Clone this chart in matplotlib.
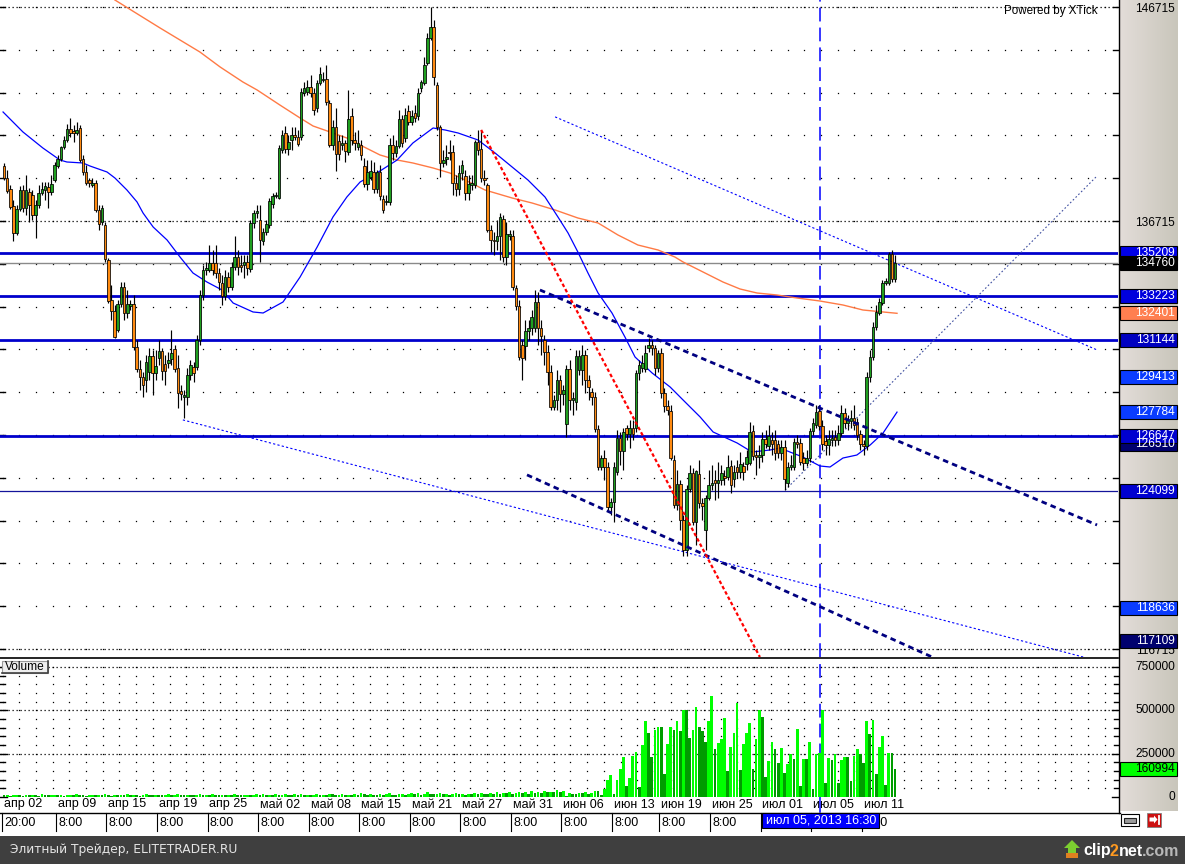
import numpy as np
import matplotlib
matplotlib.use("Agg")
import matplotlib.pyplot as plt
from matplotlib.patches import Rectangle, Polygon
from matplotlib.lines import Line2D
from matplotlib.colors import LinearSegmentedColormap
import matplotlib.transforms as mtransforms

plt.rcParams['font.family'] = ['Liberation Sans', 'DejaVu Sans']

# ------------------------------------------------------------------ data
opens = [139290,138720,138210,137420,136150,137280,138160,137320,138070,137930,
137000,137460,138020,138160,138300,138070,138630,139290,139610,140170,
140500,141010,140920,140830,141060,139610,139000,138630,138400,138490,
137230,136670,136530,134890,133020,132510,131620,132840,133630,132420,
132740,132840,130830,129800,129430,129280,129660,130410,129610,130310,
130640,130030,130080,130270,130730,129850,128770,128490,128490,129520,
129890,129890,131150,133260,134430,134430,134750,134750,134290,133820,
133210,134100,133630,134570,135030,134660,134660,134800,134470,136620,
137090,136760,135780,136200,136530,137510,137880,137790,140030,140830,
140080,140500,140730,140640,140640,142700,142740,142980,142700,142000,
143160,143300,143350,142230,140270,141110,140450,140270,140360,139940,
141620,140500,140170,140270,139290,138440,138770,139000,138210,139000,
137740,137600,137600,140270,139890,140220,141480,140590,141860,141340,
141760,141620,142930,143160,144100,145270,145780,143070,141110,139430,
139610,139940,139940,138490,138210,138960,138820,138020,138400,138400,
140410,140080,138720,138400,136290,135830,135780,136010,136810,135030,
136010,136010,133580,132740,130920,130870,131570,131710,131710,132930,
131710,131150,130590,129660,128020,128350,129280,128630,127230,129800,
128350,128260,129750,129750,130450,129280,128720,128490,126990,125220,
125640,125220,123350,123580,124990,126570,125970,127040,126760,127040,
127040,129610,129850,129800,130780,130920,130780,129850,130550,128680,
128070,127840,125550,123440,124420,122740,121340,124190,124940,122650,
124890,123540,122280,123770,124380,124610,124470,124610,124800,124750,
125270,124660,125220,124990,125270,125360,125410,126900,125780,125690,
125780,126530,126200,126480,126480,126290,125870,126150,124470,125220,
125220,126390,126340,125640,125410,125640,126900,127180,127840,127140,
126430,126250,126480,126620,126480,126810,127740,127280,127370,127510,
127320,126760,126290,126200,129430,130360,131760,132420,132880,133820,
133820,135170,134000]

highs = [139430,139100,138400,137700,137460,138350,138400,138860,138260,138160,
137700,138400,138540,138540,138540,138860,139470,139800,140220,140690,
141250,141530,141200,141340,141200,139800,139330,138720,138720,138630,
137460,137460,136670,134990,133720,132790,133020,133860,133860,133490,
133020,133260,131150,130220,129660,130450,130780,130690,130690,131150,
130780,130450,130590,131620,130920,130450,129050,128820,129850,130220,
130130,131390,133490,134660,134800,135590,135360,135590,134520,134190,
134430,134330,134800,136010,135360,135130,135130,135130,136760,137230,
137460,137460,136390,136760,137790,138020,138070,140270,140970,141150,
140730,141110,141110,140970,142930,143210,143300,143540,142930,143300,
143910,143680,144000,142370,141440,142000,140730,140730,140500,142840,
142000,140870,140970,140500,139660,139570,139570,139470,139100,139330,
137930,137930,140590,140730,140500,141900,141670,142000,142140,141900,
142140,142930,143300,144380,145500,146720,146110,143210,141200,140030,
140270,140500,140270,138860,139330,139570,139100,138860,138860,140500,
140970,140970,139100,138490,136530,136200,136760,137090,137000,136670,
136290,136290,133720,133020,131150,132090,132090,132560,133490,133400,
132090,131390,130920,129990,128580,129750,129520,129050,129990,130220,
128720,130690,130690,130920,130690,129520,128910,128720,127180,125780,
126010,125450,123770,125450,126950,126850,127040,127180,127420,127420,
129750,130220,130450,130920,131250,131150,130920,130690,130780,128910,
128350,128120,125780,125080,124610,122980,124380,125310,125170,125080,
125550,123770,123910,125080,125310,125080,125450,125310,125080,125780,
125550,125310,125550,125920,125450,126010,127320,127180,126010,126250,
126850,126950,127180,126850,126950,126480,126480,126480,125450,125780,
126570,126710,126570,125920,126010,127040,127510,128120,128120,127420,
126710,126950,126950,126950,127180,128120,127980,127650,127880,128120,
127510,126950,126480,129660,130690,132000,132790,133120,133960,134050,
135270,135360,135130]

lows = [138630,138020,137280,135780,136060,137180,137140,137000,136670,136760,
135920,137320,137930,137700,137320,137930,138540,139190,139520,140080,
140410,140640,140410,140730,139470,138860,138400,138300,138300,137140,
136290,136530,134800,132880,132090,131250,131530,132700,132090,132180,
132560,130690,129660,128820,128490,128720,129280,128580,129280,129990,
129280,129050,129850,129990,129660,127980,128350,127510,128120,129280,
129190,129750,130920,133020,134190,134330,134190,134050,133490,132790,
133020,133400,133490,134430,134190,134330,134050,134190,134330,136390,
136860,134800,135590,136060,136390,137320,137790,137740,139890,139890,
139800,140030,140500,140220,140500,142560,142600,142510,141670,141810,
143070,143210,142140,140170,140030,139050,139570,140030,139470,139800,
140270,140030,140030,139570,138300,138160,138630,138020,138020,137700,
137090,137460,137460,139570,139710,140130,140170,140410,141200,141200,
141340,141440,142740,143070,144000,145170,143070,140970,138770,139240,
139330,139570,137930,137880,137930,138630,137700,137700,138160,138260,
139800,138540,138400,136200,135270,135130,135360,134890,134800,134660,
135830,133490,132560,130220,129280,130220,131150,131390,131530,130920,
130450,129990,129050,127880,127880,127880,127790,128120,126620,127880,
127650,127880,129520,129050,128680,128350,128120,126850,125080,125080,
124610,123210,122980,122650,124850,125310,125080,126480,126110,126480,
126850,129280,129660,129660,130590,130450,129520,129660,128440,127790,
127650,125550,123300,123210,122280,121060,121060,124050,122510,121570,
123300,122740,121340,123680,124140,123680,123770,124380,124380,124610,
124000,124280,124710,124710,124610,125080,125310,125550,124850,125170,
125450,126110,126010,125780,125550,125640,125550,124140,124280,125080,
125080,126110,125310,125080,125270,125450,126710,127040,126950,126010,
125780,125780,126200,126200,126250,126670,127040,126950,127040,126950,
126480,126010,125780,126010,129190,130220,131620,132320,132790,133720,
133720,133860,133860]

closes = [138720,138120,137370,136150,137280,138160,137320,138160,137460,137000,
137460,138020,138210,138350,138070,138440,139330,139610,140170,140500,
141010,140830,140830,140970,139570,139000,138490,138490,138490,137230,
136570,137320,134940,132980,132510,131290,132840,133630,132420,132840,
132840,130830,129800,129430,129050,130130,130410,129610,129940,130640,
129710,129710,130220,130550,129800,128680,128630,128580,129520,129990,
129610,131150,133260,134430,134520,134750,134430,134290,133860,133210,
134100,133630,134570,135030,134570,134570,134800,134520,136620,137090,
137180,135830,136200,136570,137650,137880,137930,140130,140730,140080,
140410,140730,140640,140310,142740,142930,142980,142700,141900,143160,
143580,143350,142280,140270,141110,139850,139850,140360,139990,141480,
140500,140360,140360,139800,138440,139000,139050,138210,139000,137880,
137230,137650,140270,139890,140220,141480,140360,141670,141340,141620,
141530,142700,143210,144000,145270,145780,143440,141110,139430,139570,
139710,139890,138490,138210,138960,139330,138020,138440,138490,140410,
140030,138720,138630,136290,135830,135780,136010,136900,135030,136110,
136110,133630,132740,130360,130310,131570,131710,132230,132930,131710,
131340,130590,129660,128020,128350,129280,128630,128820,129800,128350,
128440,130410,130410,130450,129280,128960,128490,126990,125220,125640,
125220,123350,123580,125220,126570,125970,126850,126760,127040,126760,
129610,129990,130080,130550,130920,130780,129850,130550,128680,128070,
127880,125640,123440,124420,122740,121340,124190,124940,122650,125030,
123540,123400,123770,124380,124470,124470,124610,124940,124710,125220,
124380,124990,124990,125360,124990,125690,126850,125730,125690,125780,
126530,126290,126670,126290,125870,125870,126150,124660,125220,125270,
126390,126290,125450,125410,125640,126900,127280,127790,127140,126290,
126250,126530,126570,126480,126810,127740,127280,127420,127510,127180,
126710,126290,126200,129430,130360,131760,132460,132930,133820,133860,
135170,134000,134760]

volumes_early = [9000,12000,8000,11000,14000,10000,7000,12000,9000,13000,
11000,8000,15000,10000,9000,12000,14000,9000,11000,8000,
10000,13000,9000,16000,12000,10000,8000,11000,14000,9000,
12000,10000,17000,11000,8000,13000,10000,12000,9000,15000,
11000,13000,10000,8000,12000,16000,11000,9000,14000,12000,
10000,13000,15000,9000,11000,18000,12000,10000,14000,11000,
9000,12000,15000,10000,13000,11000,17000,12000,9000,14000,
11000,13000,10000,16000,12000,9000,11000,14000,10000,13000,
18000,12000,15000,10000,13000,11000,16000,12000,14000,20000,
13000,11000,15000,12000,17000,10000,14000,12000,13000,16000,
11000,14000,12000,19000,15000,10000,13000,17000,12000,14000,
11000,16000,13000,22000,15000,12000,18000,14000,11000,15000,
13000,17000,21000,14000,12000,16000,19000,13000,15000,24000,
18000,22000,14000,17000,26000,20000,15000,18000,23000,16000,
19000,14000,17000,21000,15000,18000,13000,20000,16000,22000,
18000,25000,19000,17000,23000,20000,28000,18000,24000,21000,
26000,19000,23000,30000,22000,27000,20000,33000,25000,29000,
24000,35000,27000,31000,26000,38000,29000,34000]

volumes_late = [7700,21200,17300,15400,25000,21200,30800,17300,25000,34600,
34600,11500,44300,98200,127000,17300,98200,161700,229000,63500,
107800,236700,257900,59600,300200,440700,367600,229000,386900,402300,
402300,132800,304100,402300,386900,440700,383000,502300,502300,338800,
386900,517700,402300,383000,319500,440700,583200,277200,309900,333000,
454200,152000,290600,371400,544700,155900,304100,367600,425400,161700,
333000,502300,463800,117400,209800,319500,275200,194400,281000,136700,
190500,248300,217500,390700,63500,219400,219400,319500,44300,248300,
256000,502300,78900,223300,213600,248300,78900,213600,232900,229000,
94300,236700,275200,248300,194400,440700,361900,444600,132800,290600,
352200,69300,252100,252100,160994]

volumes = volumes_early + volumes_late

ma_blue_idx = [-0.3,6.0,12.3,17.7,19.9,25.0,27.2,32.6,35.1,38.9,42.1,44.0,47.2,51.6,
55.7,59.8,64.2,69.0,72.5,78.8,82.0,88.3,93.7,99.1,104.1,108.5,112.7,119.0,
124.4,129.4,135.8,139.6,143.7,150.0,155.4,160.8,165.8,171.2,175.3,178.5,
181.6,184.8,188.0,192.4,196.5,199.7,205.1,210.8,214.9,220.3,224.4,232.0,
236.7,242.4,245.6,248.7,252.8,258.2,261.4,265.5,269.9,274.1,278.2,282.6]
ma_blue_val = [141809,140874,140126,139565,139472,139425,139285,139005,138724,138163,
137603,137089,136434,135827,135032,134285,133865,133490,132883,132463,
132416,132930,134098,135500,136902,137836,138538,139051,139565,140360,
141061,140967,140827,140500,139893,139238,138631,137836,136902,136154,
135266,134285,133350,132416,131294,130359,129612,128957,128350,127556,
126855,126341,125920,126013,126107,125920,125686,125266,125219,125639,
125779,126247,126808,127784]

ma_orange_idx = [35.1,49.4,62.0,68.4,75.6,80.1,87.3,93.7,97.8,103.2,108.5,112.7,
119.0,124.4,129.4,135.8,141.1,145.9,152.2,160.8,167.1,174.4,181.6,188.0,
194.3,200.6,207.0,212.3,214.9,221.2,227.5,232.9,238.3,244.6,251.0,258.2,
265.5,271.8,278.2,282.6]
ma_orange_val = [147042,145733,144612,143911,143210,142837,142135,141528,141154,140874,
140593,140266,139799,139565,139425,139191,138958,138631,138163,137789,
137556,137229,136855,136621,136060,135593,135359,135032,134799,134332,
133865,133538,133350,133257,133116,132976,132789,132556,132463,132401]

levels_thick = [135209, 133223, 131144, 126647]
last_price = 134760
support_level = 124099

trend_red = [(151.0, 140970), (239.2, 116340)]
channel_upper = [(169.6, 133490), (345.9, 122510)]
channel_lower = [(165.5, 124850), (293.7, 116340)]
thin_upper = [(174.4, 141580), (345.9, 130690)]
thin_lower = [(56.6, 127420), (341.5, 116340)]
uptrend = [(247.2, 124140), (345.9, 138820)]
marker_idx = 258.2
marker_text = 'июл 05, 2013 16:30'

date_tick_idx = [0, 17, 33, 49, 65, 81, 97, 113, 129, 145, 161, 177, 193, 208, 224, 240, 256, 272]
date_labels = ['апр 02', 'апр 09', 'апр 15', 'апр 19', 'апр 25', 'май 02', 'май 08', 'май 15',
               'май 21', 'май 27', 'май 31', 'июн 06', 'июн 13', 'июн 19', 'июн 25', 'июл 01',
               'июл 05', 'июл 11']
time_labels = ['20:00'] + ['8:00'] * 17

price_axis_text = [146715, 136715, 116715]
price_boxes = [(135209, '#0000e6'), (134760, '#000000'), (133223, '#0000dd'),
               (132401, '#ff7f50'), (131144, '#0000c0'), (129413, '#0a3cff'),
               (127784, '#0a3cff'), (126510, '#00006e'), (126647, '#0000d0'),
               (124099, '#0000d0'), (118636, '#0a3cff'), (117109, '#00006e')]
volume_axis_text = [750000, 500000, 250000, 0]
last_volume = 160994

# ------------------------------------------------------------------ layout
W, H = 1185, 864
PX_PER_BAR = 3.16
X0 = 4.0
XMIN = (0 - X0) / PX_PER_BAR
XMAX = (1118 - X0) / PX_PER_BAR
P_TOP = 147042
P_BOT = 116340
V_TOP = 796800
BOX_SHIFT_PX = {126510: 5}   # label pushed down by the chart to avoid overlap
MARKER_BOX = (762, 813, 879, 828)  # pixel box of the cursor date label

GREEN = '#1f9f1f'
ORANGE = '#ff8a10'
VLIGHT = '#00ff00'
VDARK = '#009c00'

fig = plt.figure(figsize=(W / 100, H / 100), dpi=100)
fig.patch.set_facecolor('white')


def frect(x0, y0, x1, y1):
    return [x0 / W, 1 - y1 / H, (x1 - x0) / W, (y1 - y0) / H]


# right gradient strip (behind)
axg = fig.add_axes(frect(1119, 0, 1178, 811))
grad = np.linspace(0, 1, 64)[None, :]
cm = LinearSegmentedColormap.from_list('g', ['#e3ddd9', '#c9c6bb'])
axg.imshow(grad, aspect='auto', cmap=cm, extent=[0, 1, 0, 1])
axg.set_axis_off()
axg.set_zorder(0)

ax = fig.add_axes(frect(0, 0, 1118, 657))
axv = fig.add_axes(frect(0, 659, 1118, 797))
for a in (ax, axv):
    a.set_zorder(2)
    a.set_xlim(XMIN, XMAX)
    a.set_axis_off()
ax.set_ylim(P_BOT, P_TOP)
axv.set_ylim(0, V_TOP)

n = len(closes)
idx = np.arange(n)
o = np.array(opens); h = np.array(highs); l = np.array(lows); c = np.array(closes)

# grid dots
dot_px = np.arange(2.6, 1118, 16.7)
dot_x = (dot_px - X0) / PX_PER_BAR
levels = np.arange(116715, 146716, 2000)
GX, GY = np.meshgrid(dot_x, levels)
ax.plot(GX.ravel(), GY.ravel(), ls='none', marker='s', ms=0.9, mew=0, color='black', zorder=1)
for lv in price_axis_text:
    ax.axhline(lv, color='black', lw=0.9, ls=(0, (1, 2.2)), zorder=1)
vlevels = np.arange(50000, 750001, 50000)
GX2, GY2 = np.meshgrid(dot_x, vlevels)
axv.plot(GX2.ravel(), GY2.ravel(), ls='none', marker='s', ms=0.9, mew=0, color='black', zorder=1)
for lv in [750000, 500000, 250000]:
    axv.axhline(lv, color='black', lw=0.9, ls=(0, (1, 2.2)), zorder=1)

# edge ticks
tick_len = 5 / PX_PER_BAR
for lv in levels:
    ax.plot([XMIN, XMIN + tick_len], [lv, lv], color='black', lw=1.0, zorder=2, clip_on=False)
    ax.plot([XMAX - tick_len, XMAX], [lv, lv], color='black', lw=1.0, zorder=2, clip_on=False)
for lv in np.arange(0, 750001, 50000):
    ln = tick_len * (1.3 if lv % 250000 == 0 else 0.9)
    axv.plot([XMIN, XMIN + ln], [lv, lv], color='black', lw=1.0, zorder=2, clip_on=False)
    axv.plot([XMAX - ln, XMAX], [lv, lv], color='black', lw=1.0, zorder=2, clip_on=False)

# horizontal levels
for lv in levels_thick:
    ax.axhline(lv, color='#0000cc', lw=2.0, zorder=2)
ax.axhline(last_price, color='#8a8a8a', lw=1.0, zorder=2)
ax.axhline(support_level, color='#14149a', lw=0.9, zorder=2)


def seg(a, pts, **kw):
    a.plot([pts[0][0], pts[1][0]], [pts[0][1], pts[1][1]], **kw)


seg(ax, thin_upper, color='#0000ff', lw=0.8, ls=(0, (2, 2)), zorder=2)
seg(ax, thin_lower, color='#0000ff', lw=0.8, ls=(0, (2, 2)), zorder=2)
seg(ax, uptrend, color='#4050a0', lw=0.8, ls=(0, (1.5, 2)), zorder=2)
seg(ax, channel_upper, color='#000080', lw=2.0, ls=(0, (2, 1.5)), zorder=5)
seg(ax, channel_lower, color='#000080', lw=2.0, ls=(0, (2, 1.5)), zorder=5)
seg(ax, trend_red, color='#ff0000', lw=1.6, ls=(0, (1.6, 1.1)), zorder=5)

# moving averages
ax.plot(ma_orange_idx, ma_orange_val, color='#ff7a45', lw=1.0, zorder=2.5)
ax.plot(ma_blue_idx, ma_blue_val, color='#0000ff', lw=0.9, zorder=2.5)

# vertical marker
ax.axvline(marker_idx, color='#0000ff', lw=1.1, ls=(0, (9, 4)), zorder=2)
axv.axvline(marker_idx, color='#0000ff', lw=1.1, ls=(0, (9, 4)), zorder=2)

# candles
up = c >= o
ccol = np.where(up, GREEN, ORANGE)
ax.vlines(idx, l, h, color='black', lw=0.85, zorder=3)
body_b = np.minimum(o, c)
body_h = np.maximum(np.abs(c - o), 70)
ax.bar(idx, body_h, bottom=body_b, width=0.8, color=ccol, edgecolor='black',
       linewidth=0.55, zorder=4)

# volume
v = np.array(volumes)
vcol = [VLIGHT if (i > 0 and v[i] > v[i - 1]) else VDARK for i in range(n)]
axv.bar(idx, v, width=0.85, color=vcol, linewidth=0, zorder=3)

# ------------------------------------------------------------------ axes text
tr_fy = mtransforms.blended_transform_factory(fig.transFigure, ax.transData)
tr_fyv = mtransforms.blended_transform_factory(fig.transFigure, axv.transData)
tr_xf = mtransforms.blended_transform_factory(ax.transData, fig.transFigure)
units_per_px = (P_TOP - P_BOT) / 657.0
vunits_per_px = V_TOP / 138.0
FS = 8.6

for val in price_axis_text:
    ax.text(1175 / W, val - 2 * units_per_px, str(val), transform=tr_fy, ha='right', va='center',
            fontsize=FS, color='black', clip_on=False, zorder=20)
for val, col in price_boxes:
    hh = 7 * units_per_px
    yc = val - BOX_SHIFT_PX.get(val, 0) * units_per_px
    ax.add_patch(Rectangle((1120 / W, yc - hh), 57 / W, 2 * hh, transform=tr_fy,
                           facecolor=col, edgecolor='black', lw=0.8, clip_on=False, zorder=21))
    ax.text(1175 / W, yc, str(val), transform=tr_fy, ha='right', va='center',
            fontsize=FS, color='white', clip_on=False, zorder=22)

for val in volume_axis_text:
    axv.text(1175 / W, val, str(val), transform=tr_fyv, ha='right', va='center',
             fontsize=FS, color='black', clip_on=False, zorder=20)
hv = 7 * vunits_per_px
axv.add_patch(Rectangle((1120 / W, last_volume - hv), 57 / W, 2 * hv, transform=tr_fyv,
                        facecolor='#00ff00', edgecolor='black', lw=0.8, clip_on=False, zorder=21))
axv.text(1175 / W, last_volume, str(last_volume), transform=tr_fyv, ha='right', va='center',
         fontsize=FS, color='black', clip_on=False, zorder=22)

# date rows
clip_after_box = mtransforms.Bbox([[MARKER_BOX[2] + 1, 0], [1118, H]])
for ti, dl, tl in zip(date_tick_idx, date_labels, time_labels):
    ax.text(ti, 1 - 804.5 / H, dl, transform=tr_xf, ha='left', va='center', fontsize=9,
            color='black', clip_on=False, zorder=20)
    ax.plot([ti - 0.6, ti - 0.6], [1 - 813 / H, 1 - 831 / H], transform=tr_xf, color='black',
            lw=0.8, clip_on=False, zorder=20)
    tpx = X0 + PX_PER_BAR * ti
    if MARKER_BOX[0] - 2 <= tpx <= MARKER_BOX[2] - 20:
        # label fully hidden behind the cursor date box
        continue
    t = ax.text(ti + 0.1, 1 - 823 / H, tl, transform=tr_xf, ha='left', va='center', fontsize=9,
                color='black', clip_on=False, zorder=20)
    if MARKER_BOX[0] <= tpx <= MARKER_BOX[2]:
        # only the part sticking out of the box is visible
        t.set_clip_on(True)
        t.set_clip_box(clip_after_box)
ax.plot([marker_idx, marker_idx], [1 - 797 / H, 1 - 812 / H], transform=tr_xf, color='#0000ff',
        lw=1.1, clip_on=False, zorder=20)

# ------------------------------------------------------------------ overlay decorations
axo = fig.add_axes([0, 0, 1, 1])
axo.set_zorder(10)
axo.set_xlim(0, W)
axo.set_ylim(H, 0)
axo.set_axis_off()
axo.patch.set_alpha(0)

axo.add_line(Line2D([0, 1118], [657.5, 657.5], color='black', lw=1.2))
axo.add_line(Line2D([0, 1120], [813, 813], color='black', lw=1.0))
axo.add_line(Line2D([1118.5, 1118.5], [0, 813], color='black', lw=1.0))

# volume caption
axo.add_patch(Rectangle((2, 661), 46, 12, facecolor='#eeeeee', edgecolor='#9a9a9a', lw=0.8))
axo.add_line(Line2D([48, 48, 2], [661, 673, 673], color='#404040', lw=1.2))
axo.text(5, 667.5, 'Volume', fontsize=8.6, ha='left', va='center', color='black')

axo.text(1004, 11, 'Powered by XTick', fontsize=8.4, ha='left', va='center', color='black')

# date marker box
bx0, by0, bx1, by1 = MARKER_BOX
axo.add_patch(Rectangle((bx0, by0), bx1 - bx0, by1 - by0, facecolor='#0000ff', edgecolor='black',
                        lw=0.8, zorder=5))
axo.text(bx0 + 4, (by0 + by1) / 2, marker_text, fontsize=9, color='white', ha='left', va='center',
         zorder=6)

# icons
axo.add_patch(Rectangle((1121, 814), 18, 12, facecolor='white', edgecolor='black', lw=0.8))
axo.add_patch(Rectangle((1124, 817.5), 12, 5, facecolor='#9a9a9a', edgecolor='#202020', lw=0.8))
axo.add_patch(Rectangle((1147, 812.5), 14, 14, facecolor='#cc1010', edgecolor='#808080', lw=0.6))
axo.add_patch(Polygon([[1149.5, 817.5], [1154, 817.5], [1154, 815.5], [1157.5, 819.5],
                       [1154, 823.5], [1154, 821.5], [1149.5, 821.5]], closed=True,
                      facecolor='white', edgecolor='none'))
axo.add_line(Line2D([1159, 1159], [815.5, 823.5], color='white', lw=1.3))

# footer
axo.add_patch(Rectangle((0, 836), W, 28, facecolor='#3f3f3f', edgecolor='none'))
axo.text(10, 850, 'Элитный Трейдер, ELITETRADER.RU', fontsize=8.8, color='#e4e4e4',
         ha='left', va='center', family=['DejaVu Sans'])
axo.add_patch(Polygon([[1066, 858], [1078, 858], [1078, 853], [1066, 853]], closed=True,
                      facecolor='#e08020', edgecolor='none'))
axo.add_patch(Polygon([[1068, 853], [1068, 848], [1064, 848], [1072, 840], [1080, 848],
                       [1076, 848], [1076, 853]], closed=True, facecolor='#7ccf30', edgecolor='none'))
axo.text(1083, 851, 'clip', fontsize=11.5, fontweight='bold', color='white', ha='left', va='center')
axo.text(1110, 851, '2', fontsize=11.5, fontweight='bold', color='#ff9a20', ha='left', va='center')
axo.text(1119, 851, 'net', fontsize=11.5, fontweight='bold', color='white', ha='left', va='center')
axo.text(1142, 851, '.com', fontsize=11.5, fontweight='bold', color='#b8b8b8', ha='left', va='center')

fig.savefig('out.png', dpi=100)
